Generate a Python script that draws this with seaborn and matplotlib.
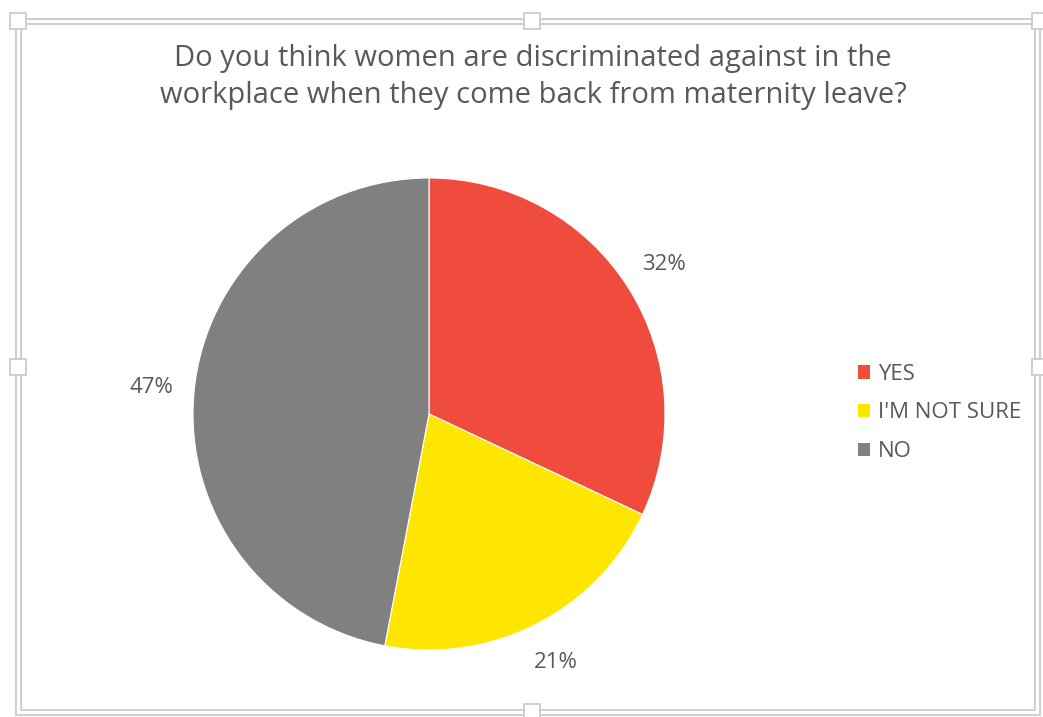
import matplotlib
matplotlib.use('Agg')
import matplotlib.pyplot as plt
from matplotlib.patches import Rectangle
import seaborn as sns

labels = ['YES', "I'M NOT SURE", 'NO']
values = [32, 21, 47]
colors = ['#F04C3E', '#FFE600', '#808080']
title = 'Do you think women are discriminated against in the\nworkplace when they come back from maternity leave?'

sns.set_style("white")
plt.rcParams['font.family'] = ['Open Sans', 'DejaVu Sans']
text_color = '#595959'

W, H = 1043, 717
fig = plt.figure(figsize=(W / 100, H / 100), dpi=100)

def fx(x):
    return x / W

def fy(y):
    return 1 - y / H

# chart frame (selected chart object look)
for (x0, y0, x1, y1) in [(16, 19, 1040, 715), (21, 24, 1035, 710)]:
    fig.add_artist(Rectangle((fx(x0), fy(y1)), fx(x1) - fx(x0), fy(y0) - fy(y1),
                             transform=fig.transFigure, fill=False,
                             edgecolor='#d0d0d0', linewidth=1.5))
for (cx, cy) in [(18, 21), (532, 21), (18, 367), (532, 712), (1040, 367), (1040, 21)]:
    s = 16
    fig.add_artist(Rectangle((fx(cx - s / 2), fy(cy + s / 2)), s / W, s / H,
                             transform=fig.transFigure, facecolor='white',
                             edgecolor='#c8c8c8', linewidth=1.2, zorder=5))

ax = fig.add_axes([fx(193), fy(650), 472 / W, 472 / H])
wedges, texts = ax.pie(values, colors=colors, startangle=90, counterclock=False,
                       labels=[f'{v}%' for v in values], labeldistance=1.18,
                       wedgeprops=dict(linewidth=0.8, edgecolor='white'),
                       textprops=dict(color=text_color, fontsize=16))
for t in texts:
    t.set_ha('center')
    t.set_va('center')
ax.set_xlim(-1, 1)
ax.set_ylim(-1, 1)
ax.set_aspect('equal')

fig.text(fx(533), fy(77), title, ha='center', va='center', fontsize=21,
         color=text_color, linespacing=1.35)

handles = [Rectangle((0, 0), 1, 1, facecolor=c, edgecolor='none') for c in colors]
fig.legend(handles, labels, loc='center left', bbox_to_anchor=(fx(838), fy(413)),
           frameon=False, fontsize=16, handlelength=0.55, handleheight=0.55,
           handletextpad=0.35, labelspacing=0.8, labelcolor=text_color)

fig.savefig('out.png', dpi=100)
